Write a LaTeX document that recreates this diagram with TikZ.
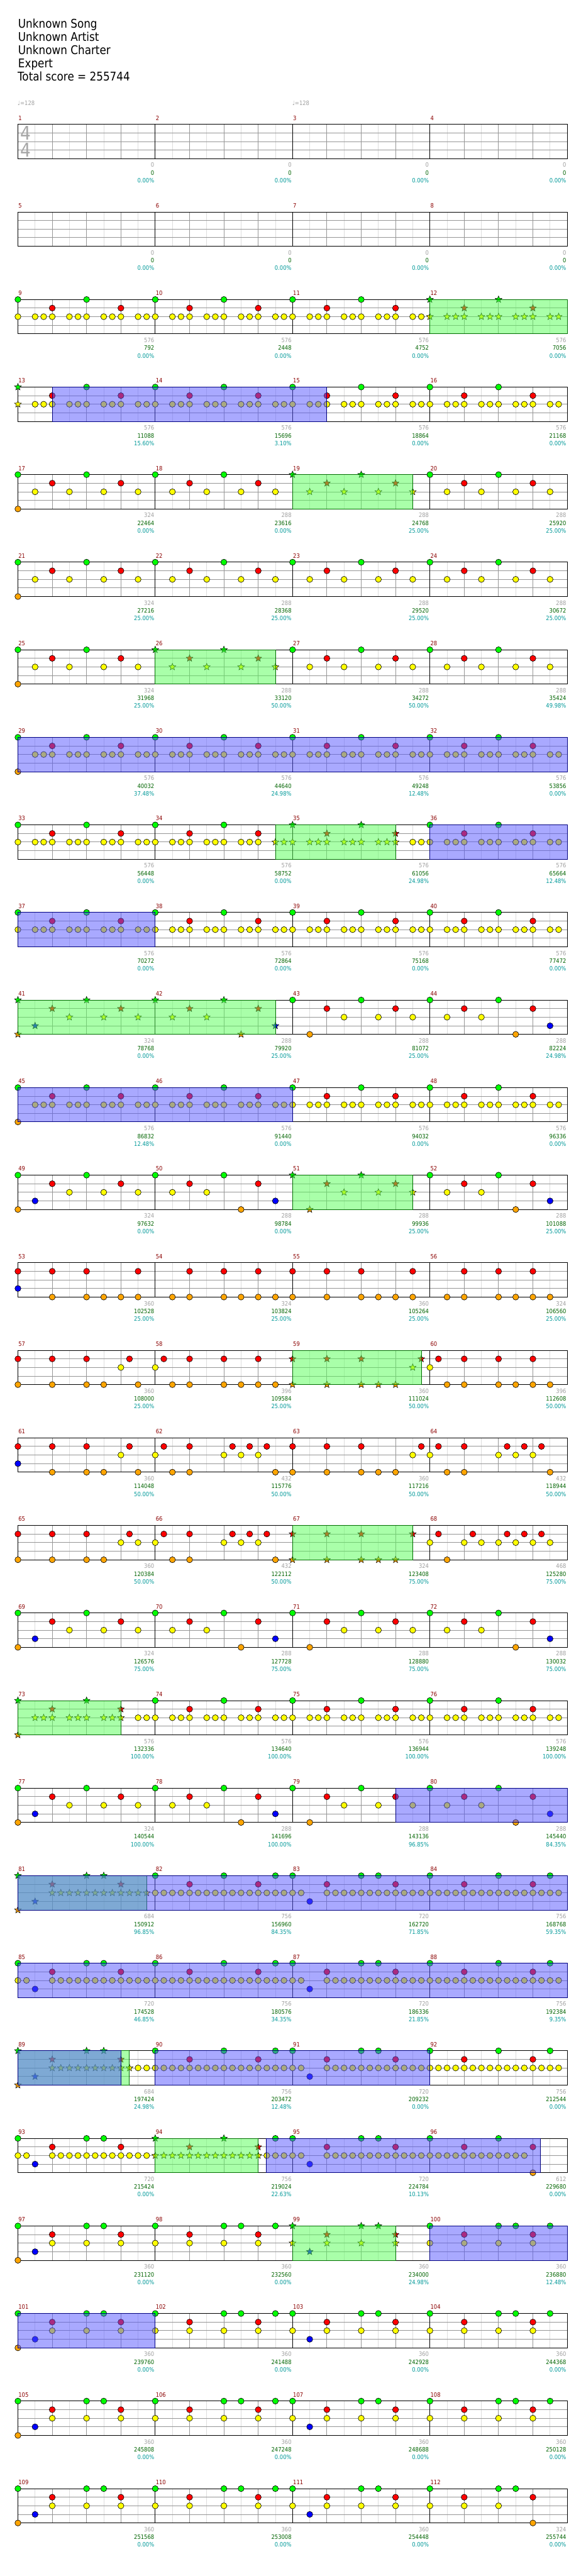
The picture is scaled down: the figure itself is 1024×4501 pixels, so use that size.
\documentclass[tikz,border=0pt]{standalone}
\usepackage{fontspec}
\setmainfont{DejaVu Sans}[FakeStretch=0.88]
\usetikzlibrary{shapes.geometric}

\definecolor{lane0}{RGB}{0,255,0}
\definecolor{lane1}{RGB}{255,0,0}
\definecolor{lane2}{RGB}{255,255,0}
\definecolor{lane3}{RGB}{0,0,255}
\definecolor{lane4}{RGB}{255,165,0}
\definecolor{gridlite}{RGB}{221,221,221}
\definecolor{gridgray}{RGB}{150,150,150}
\definecolor{spgreen}{RGB}{85,255,85}
\definecolor{spedge}{RGB}{0,110,0}
\definecolor{actblue}{RGB}{85,85,255}
\definecolor{actedge}{RGB}{0,0,128}
\definecolor{mnumred}{RGB}{139,0,0}
\definecolor{basegray}{RGB}{160,160,160}
\definecolor{totgreen}{RGB}{0,100,0}
\definecolor{pctteal}{RGB}{0,153,153}

% gems: measure, lane (0=green ... 4=orange), 16th positions
\newcommand{\nt}[3]{%
  \pgfmathtruncatemacro\rw{(#1-1)/4}\pgfmathtruncatemacro\cl{mod(#1-1,4)}%
  \foreach \p in {#3} \node[gem,fill=lane#2] (n#1-#2-\p) at ({31.3+240*\cl+15*\p},{217.3+153*\rw+15*#2}) {};}
\newcommand{\sn}[3]{%
  \pgfmathtruncatemacro\rw{(#1-1)/4}\pgfmathtruncatemacro\cl{mod(#1-1,4)}%
  \foreach \p in {#3} \node[spstar,fill=lane#2] (s#1-#2-\p) at ({31.3+240*\cl+15*\p},{217.3+153*\rw+15*#2}) {};}
% shaded phrase: style, from measure/16th to measure/16th (same row)
\newcommand{\zone}[5]{%
  \pgfmathtruncatemacro\rw{(#2-1)/4}%
  \pgfmathsetmacro\xa{31.3+240*mod(#2-1,4)+15*#3}\pgfmathsetmacro\xb{31.3+240*mod(#4-1,4)+15*#5}%
  \draw[#1] (\xa,{217.3+153*\rw}) rectangle (\xb,{277.3+153*\rw});}

% measure patterns (first argument \nt or \sn)
\newcommand{\patA}[2]{#1{#2}{0}{0,8}#1{#2}{1}{4,12}#1{#2}{2}{0,2,3,4,6,7,8,10,11,12,14,15}}
\newcommand{\patB}[2]{#1{#2}{0}{0,8}#1{#2}{1}{4,12}#1{#2}{2}{2,6,10,14}}
\newcommand{\patC}[2]{#1{#2}{0}{0,8}#1{#2}{1}{4,12}#1{#2}{2}{6,10,14}#1{#2}{3}{2}#1{#2}{4}{0}}
\newcommand{\patD}[2]{#1{#2}{0}{0,8}#1{#2}{1}{4,12}#1{#2}{2}{2,6}#1{#2}{4}{10}#1{#2}{3}{14}}
\newcommand{\patE}[2]{#1{#2}{0}{0,8}#1{#2}{1}{4,12}#1{#2}{2}{6,10,14}#1{#2}{4}{2}}
\newcommand{\patF}[2]{#1{#2}{0}{0,8,10}#1{#2}{1}{4,12}#1{#2}{2}{0,1,4,5,6,7,8,9,10,11,12,13,14,15}#1{#2}{3}{2}}
\newcommand{\patG}[2]{#1{#2}{0}{0,8,14}#1{#2}{1}{4,12}#1{#2}{2}{0,...,15}}
\newcommand{\patH}[2]{#1{#2}{0}{0,8,10}#1{#2}{1}{4,12}#1{#2}{2}{4,8,12}#1{#2}{3}{2}#1{#2}{4}{0}}
\newcommand{\patI}[2]{#1{#2}{0}{0,8,10,14}#1{#2}{1}{4,12}#1{#2}{2}{0,4,8,12}}
\newcommand{\patJ}[2]{#1{#2}{0}{0,8,10}#1{#2}{1}{4,12}#1{#2}{2}{0,4,8,12}#1{#2}{3}{2}}

\begin{document}
\begin{tikzpicture}[x=1pt,y=-1pt,line width=1pt,font=\fontsize{10.5}{12}\selectfont]
\tikzstyle{gem}=[circle,draw=black,line width=0.7pt,minimum size=10.5pt,inner sep=0pt]
\tikzstyle{spstar}=[star,star points=5,star point ratio=2.3,draw=black,line width=0.6pt,minimum size=12.5pt,inner sep=0pt]
\tikzstyle{lite}=[draw=gridlite]
\tikzstyle{beat}=[draw=gridgray]
\tikzstyle{bar}=[draw=black]
\tikzstyle{spz}=[fill=spgreen,fill opacity=0.5,draw=spedge]
\tikzstyle{actz}=[fill=actblue,fill opacity=0.5,draw=actedge]
\tikzstyle{mnum}=[anchor=base west,inner sep=0pt,text=mnumred]
\tikzstyle{pts}=[anchor=base east,inner sep=0pt]
\tikzstyle{hdr}=[anchor=base west,inner sep=0pt,font=\fontsize{21}{23}\selectfont]
\useasboundingbox[fill=white] (0,0) rectangle (1024,4501);

\node[hdr] (song) at (31.3,49.3) {Unknown Song};
\node[hdr] (artist) at (31.3,72.3) {Unknown Artist};
\node[hdr] (charter) at (31.3,95.3) {Unknown Charter};
\node[hdr] (level) at (31.3,118.3) {Expert};
\node[hdr] (total) at (30.3,141.3) {Total score = 255744};
\node[anchor=base west,inner sep=0pt,text=basegray] (bpm1) at (30.5,184.3) {♩=128};
\node[anchor=base west,inner sep=0pt,text=basegray] (bpm2) at (510.5,184.3) {♩=128};

% staves
\foreach \r in {0,...,27} {
  \pgfmathsetmacro\ty{217.3+153*\r}
  \foreach \k in {0,...,15} \draw[lite] ({61.3+60*\k},\ty) -- ++(0,60);
  \foreach \k in {1,2,3,5,6,7,9,10,11,13,14,15} \draw[beat] ({31.3+60*\k},\ty) -- ++(0,60);
  \foreach \k in {1,2,3} \draw[beat] (31.3,{\ty+15*\k}) -- (991.3,{\ty+15*\k});
  \foreach \k in {1,2,3} \draw[bar] ({31.3+240*\k},\ty) -- ++(0,60);
  \draw[bar] (31.3,\ty) rectangle (991.3,{\ty+60});
}
\node[text=gridgray!85,font=\fontsize{33}{33}\selectfont,inner sep=0pt] (ts1) at (44.5,233) {4};
\node[text=gridgray!85,font=\fontsize{33}{33}\selectfont,inner sep=0pt] (ts2) at (44.5,262.5) {4};

% measure numbers
\foreach \m in {1,...,112} {
  \pgfmathtruncatemacro\rw{(\m-1)/4}\pgfmathtruncatemacro\cl{mod(\m-1,4)}
  \node[mnum] (lbl\m) at ({31.8+240*\cl},{210+153*\rw}) {\m};
}

% notes
\patA\nt{9}\patA\nt{10}\patA\nt{11}\patA\sn{12}
\sn{13}{0}{0}\sn{13}{2}{0}\nt{13}{0}{8}\nt{13}{1}{4,12}\nt{13}{2}{2,3,4,6,7,8,10,11,12,14,15}
\patA\nt{14}\patA\nt{15}\patA\nt{16}
\patB\nt{17}\nt{17}{4}{0}\patB\nt{18}\patB\sn{19}\patB\nt{20}
\patB\nt{21}\nt{21}{4}{0}\patB\nt{22}\patB\nt{23}\patB\nt{24}
\patB\nt{25}\nt{25}{4}{0}\patB\sn{26}\patB\nt{27}\patB\nt{28}
\nt{29}{0}{0,8}\nt{29}{1}{4,12}\nt{29}{2}{2,3,4,6,7,8,10,11,12,14,15}\nt{29}{4}{0}
\patA\nt{30}\patA\nt{31}\patA\nt{32}
\patA\nt{33}
\nt{34}{0}{0,8}\nt{34}{1}{4,12}\nt{34}{2}{0,2,3,4,6,7,8,10,11,12}\sn{34}{2}{14,15}
\sn{35}{0}{0,8}\sn{35}{1}{4,12}\sn{35}{2}{0,2,3,4,6,7,8,10,11,12}\nt{35}{2}{14,15}
\patA\nt{36}
\patA\nt{37}\patA\nt{38}\patA\nt{39}\patA\nt{40}
\patC\sn{41}\patD\sn{42}\patE\nt{43}\patD\nt{44}
\nt{45}{0}{0,8}\nt{45}{1}{4,12}\nt{45}{2}{2,3,4,6,7,8,10,11,12,14,15}\nt{45}{4}{0}
\patA\nt{46}\patA\nt{47}\patA\nt{48}
\patC\nt{49}\patD\nt{50}\patE\sn{51}\patD\nt{52}
\nt{53}{1}{0,4,8,14}\nt{53}{3}{0}\nt{53}{4}{4,8,10,12,14}
\nt{54}{1}{4,8,12}\nt{54}{4}{2,4,8,10,12,14}
\nt{55}{1}{0,4,8,14}\nt{55}{4}{0,4,8,10,12,14}
\nt{56}{1}{4,8,12}\nt{56}{4}{2,4,8,10,12,14}
\nt{57}{1}{0,4,8,13}\nt{57}{2}{12}\nt{57}{4}{0,4,8,10,14}
\nt{58}{1}{1,4,8,12}\nt{58}{2}{0}\nt{58}{4}{2,4,8,10,12,14}
\sn{59}{1}{0,4,8,15}\sn{59}{2}{14}\sn{59}{4}{0,4,8,10,12}
\nt{60}{1}{1,4,8,12}\nt{60}{2}{0}\nt{60}{4}{2,4,8,10,12,14}
\nt{61}{1}{0,4,8,13}\nt{61}{2}{12}\nt{61}{3}{0}\nt{61}{4}{4,8,10,14}
\nt{62}{1}{1,4,9,11,13}\nt{62}{2}{0,8,10,12}\nt{62}{4}{2,4,14}
\nt{63}{1}{0,4,8,15}\nt{63}{2}{14}\nt{63}{4}{0,4,8,10,12}
\nt{64}{1}{1,4,9,11,13}\nt{64}{2}{0,8,10,12}\nt{64}{4}{2,4,14}
\nt{65}{1}{0,4,8,13}\nt{65}{2}{12,14}\nt{65}{4}{0,4,8,10}
\nt{66}{1}{1,4,9,11,13}\nt{66}{2}{0,8,10,12}\nt{66}{4}{2,4,14}
\sn{67}{1}{0,4,8,14}\sn{67}{4}{0,4,8,10,12}
\nt{68}{1}{1,5,9,11,13}\nt{68}{2}{0,4,6,8,10,12,14}\nt{68}{4}{2}
\patC\nt{69}\patD\nt{70}\patE\nt{71}\patD\nt{72}
\sn{73}{0}{0,8}\sn{73}{1}{4,12}\sn{73}{2}{2,3,4,6,7,8,10,11,12}\sn{73}{4}{0}\nt{73}{2}{14,15}
\patA\nt{74}\patA\nt{75}\patA\nt{76}
\patC\nt{77}\patD\nt{78}\patE\nt{79}\patD\nt{80}
\sn{81}{0}{0,8,10}\sn{81}{1}{4,12}\sn{81}{2}{4,...,15}\sn{81}{3}{2}\sn{81}{4}{0}
\patG\nt{82}\patF\nt{83}\patG\nt{84}
\patF\nt{85}\patG\nt{86}\patF\nt{87}\patG\nt{88}
\sn{89}{0}{0,8,10}\sn{89}{1}{4,12}\sn{89}{2}{4,...,13}\sn{89}{3}{2}\sn{89}{4}{0}\nt{89}{2}{14,15}
\patG\nt{90}\patF\nt{91}\patG\nt{92}
\patF\nt{93}
\sn{94}{0}{0,8}\sn{94}{1}{4,12}\sn{94}{2}{0,...,12}\nt{94}{0}{14}\nt{94}{2}{13,14,15}
\patF\nt{95}
\nt{96}{0}{0,8}\nt{96}{1}{4,12}\nt{96}{2}{0,...,11}\nt{96}{4}{12}
\patH\nt{97}\patI\nt{98}\patJ\sn{99}\patI\nt{100}
\patH\nt{101}\patI\nt{102}\patJ\nt{103}\patI\nt{104}
\patH\nt{105}\patI\nt{106}\patJ\nt{107}\patI\nt{108}
\patH\nt{109}\patI\nt{110}\patJ\nt{111}
\nt{112}{0}{0,8,10}\nt{112}{1}{4,12}\nt{112}{2}{0,4,8}\nt{112}{4}{12}

% star power phrases
\zone{spz}{12}{0}{12}{16}
\zone{spz}{19}{0}{19}{14}
\zone{spz}{26}{0}{26}{14}
\zone{spz}{34}{14}{35}{12}
\zone{spz}{41}{0}{42}{14}
\zone{spz}{51}{0}{51}{14}
\zone{spz}{59}{0}{59}{15}
\zone{spz}{67}{0}{67}{14}
\zone{spz}{73}{0}{73}{12}
\zone{spz}{81}{0}{81}{15}
\zone{spz}{89}{0}{89}{13}
\zone{spz}{94}{0}{94}{12}
\zone{spz}{99}{0}{99}{12}
% activations
\zone{actz}{13}{4}{15}{4}
\zone{actz}{29}{0}{32}{16}
\zone{actz}{36}{0}{36}{16}
\zone{actz}{37}{0}{38}{0}
\zone{actz}{45}{0}{47}{0}
\zone{actz}{79}{12}{80}{16}
\zone{actz}{81}{0}{84}{16}
\zone{actz}{85}{0}{88}{16}
\zone{actz}{89}{0}{89}{12}
\zone{actz}{90}{0}{92}{0}
\zone{actz}{94}{12.9}{96}{12.9}
\zone{actz}{100}{0}{100}{16}
\zone{actz}{101}{0}{102}{0}

% scores per measure
\foreach \m/\a/\b/\c in {1/0/0/0.00,2/0/0/0.00,3/0/0/0.00,4/0/0/0.00,5/0/0/0.00,6/0/0/0.00,7/0/0/0.00,8/0/0/0.00,
  9/576/792/0.00,10/576/2448/0.00,11/576/4752/0.00,12/576/7056/0.00,
  13/576/11088/15.60,14/576/15696/3.10,15/576/18864/0.00,16/576/21168/0.00,
  17/324/22464/0.00,18/288/23616/0.00,19/288/24768/25.00,20/288/25920/25.00,
  21/324/27216/25.00,22/288/28368/25.00,23/288/29520/25.00,24/288/30672/25.00,
  25/324/31968/25.00,26/288/33120/50.00,27/288/34272/50.00,28/288/35424/49.98,
  29/576/40032/37.48,30/576/44640/24.98,31/576/49248/12.48,32/576/53856/0.00,
  33/576/56448/0.00,34/576/58752/0.00,35/576/61056/24.98,36/576/65664/12.48,
  37/576/70272/0.00,38/576/72864/0.00,39/576/75168/0.00,40/576/77472/0.00,
  41/324/78768/0.00,42/288/79920/25.00,43/288/81072/25.00,44/288/82224/24.98,
  45/576/86832/12.48,46/576/91440/0.00,47/576/94032/0.00,48/576/96336/0.00,
  49/324/97632/0.00,50/288/98784/0.00,51/288/99936/25.00,52/288/101088/25.00,
  53/360/102528/25.00,54/324/103824/25.00,55/360/105264/25.00,56/324/106560/25.00,
  57/360/108000/25.00,58/396/109584/25.00,59/360/111024/50.00,60/396/112608/50.00,
  61/360/114048/50.00,62/432/115776/50.00,63/360/117216/50.00,64/432/118944/50.00,
  65/360/120384/50.00,66/432/122112/50.00,67/324/123408/75.00,68/468/125280/75.00,
  69/324/126576/75.00,70/288/127728/75.00,71/288/128880/75.00,72/288/130032/75.00,
  73/576/132336/100.00,74/576/134640/100.00,75/576/136944/100.00,76/576/139248/100.00,
  77/324/140544/100.00,78/288/141696/100.00,79/288/143136/96.85,80/288/145440/84.35,
  81/684/150912/96.85,82/756/156960/84.35,83/720/162720/71.85,84/756/168768/59.35,
  85/720/174528/46.85,86/756/180576/34.35,87/720/186336/21.85,88/756/192384/9.35,
  89/684/197424/24.98,90/756/203472/12.48,91/720/209232/0.00,92/756/212544/0.00,
  93/720/215424/0.00,94/756/219024/22.63,95/720/224784/10.13,96/612/229680/0.00,
  97/360/231120/0.00,98/360/232560/0.00,99/360/234000/24.98,100/360/236880/12.48,
  101/360/239760/0.00,102/360/241488/0.00,103/360/242928/0.00,104/360/244368/0.00,
  105/360/245808/0.00,106/360/247248/0.00,107/360/248688/0.00,108/360/250128/0.00,
  109/360/251568/0.00,110/360/253008/0.00,111/360/254448/0.00,112/324/255744/0.00} {
  \pgfmathtruncatemacro\rw{(\m-1)/4}\pgfmathtruncatemacro\cl{mod(\m-1,4)}
  \pgfmathsetmacro\xe{30+240*(\cl+1)}\pgfmathsetmacro\ty{217.3+153*\rw}
  \node[pts,text=basegray] (base\m) at (\xe,{\ty+75}) {\a};
  \node[pts,text=totgreen] (sum\m) at (\xe,{\ty+88.7}) {\b};
  \node[pts,text=pctteal] (pct\m) at (\xe,{\ty+102}) {\c\%};
}
\end{tikzpicture}
\end{document}
